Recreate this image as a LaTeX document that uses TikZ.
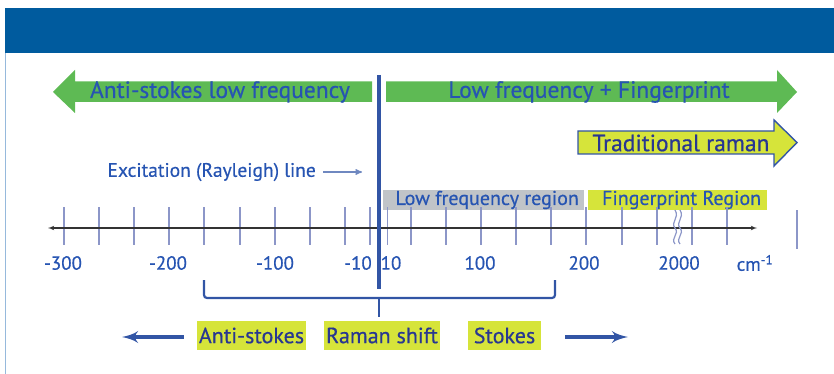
\documentclass[tikz,border=0pt]{standalone}
\usepackage{fontspec}
\setmainfont{PT Sans}[FakeBold=0.5]
\usepackage{tikz}
\usetikzlibrary{positioning,arrows}
\definecolor{hdrblue}{RGB}{0,91,158}
\definecolor{framblue}{RGB}{150,185,220}
\definecolor{arrgreen}{RGB}{94,186,84}
\definecolor{txtblue}{RGB}{38,84,178}
\definecolor{darkblue}{RGB}{40,55,145}
\definecolor{lineblue}{RGB}{50,85,165}
\definecolor{tickblue}{RGB}{140,150,200}
\definecolor{regyellow}{RGB}{214,228,58}
\definecolor{reggray}{RGB}{192,196,200}

\begin{document}
\begin{tikzpicture}[
      x=1pt, y=-1pt,
      >=latex',
      bigtxt/.style={text=txtblue, font=\fontsize{23.5}{26}\selectfont, inner sep=0pt},
      midtxt/.style={text=txtblue, font=\fontsize{19.5}{22}\selectfont, inner sep=0pt},
      numtxt/.style={text=txtblue, font=\fontsize{19}{22}\selectfont, inner sep=0pt},
      region/.style={minimum height=20pt, inner sep=0pt, anchor=west, text=txtblue,
                     font=\fontsize{20}{22}\selectfont},
      shiftbox/.style={fill=regyellow, minimum height=29pt, inner sep=0pt, text=darkblue,
                       font=\fontsize{22}{24}\selectfont},
      tick/.style={draw=tickblue, line width=1.3pt},
    ]
      \useasboundingbox (0,0) rectangle (834,374);
      % header and frame
      \fill[hdrblue] (5,8) rectangle (834,53);
      \draw[framblue, line width=0.6pt] (5.5,53) -- (5.5,374);

      % green arrows
      \fill[arrgreen] (53,92) -- (75,70) -- (75,81.5) -- (372,81.5) -- (372,102)
          -- (75,102) -- (75,113) -- cycle;
      \fill[arrgreen] (386,81.5) -- (777,81.5) -- (777,70) -- (797,92) -- (777,113)
          -- (777,102) -- (386,102) -- cycle;
      \node[bigtxt] (antilow) at (220,92) {Anti-stokes low frequency};
      \node[bigtxt] (lowfing) at (589,92) {Low frequency + Fingerprint};

      % traditional raman
      \filldraw[fill=regyellow, draw=lineblue, line width=1.4pt, line join=miter]
          (578,131) -- (774,131) -- (774,120) -- (797,142.5) -- (774,166) -- (774,154)
          -- (578,154) -- cycle;
      \node[bigtxt, text=darkblue] (tradram) at (681,143) {Traditional raman};

      % regions
      \node[region, fill=reggray, minimum width=201pt] (lowreg) at (383,200) {\hspace{7pt}Low frequency region\hfill};
      \node[region, fill=regyellow, minimum width=179pt, right=3pt of lowreg] (fingreg) {\hspace{9pt}Fingerprint Region\hfill};

      % axis and ticks
      \coordinate (axl) at (48,228);
      \coordinate (axr) at (757,228);
      \foreach \tx in {64,99,134,169,204,240,275,310,345,370,387.5,411,446,481,516,551,586,622,657,692,727}
        \draw[tick] (\tx,207) -- (\tx,245);
      \draw[tick] (797,210) -- (797,249);
      \draw[<->, line width=1.1pt, black!80] (axl) -- (axr);
      \foreach \wx in {675,680}
        \draw[tickblue, line width=1.2pt] (\wx,210) .. controls (\wx+5,218) and (\wx-5,222) .. (\wx,228)
            .. controls (\wx+5,234) and (\wx-5,238) .. (\wx,244);

      % labels
      \foreach \lx/\lt in {63/-300,168/-200,275/-100,358/-10,391/10,480/100,584/200,679/2000}
        \node[numtxt] (lab\lt) at (\lx,263) {\lt};
      \node[numtxt] (unit) at (755,263) {cm\textsuperscript{-1}};

      % excitation line
      \node[midtxt, anchor=east] (excit) at (316,172) {Excitation (Rayleigh) line};
      \coordinate (excend) at (362,172);
      \draw[-stealth', lineblue!70, line width=1.3pt] (excit.east) ++(7,0) -- (excend);
      \coordinate (rayltop) at (379,75);
      \coordinate (raylbot) at (379,289);
      \draw[lineblue, line width=4pt] (rayltop) -- (raylbot);

      % brace
      \draw[lineblue, line width=2.2pt, rounded corners=3pt] (204,280) -- (204,298) -- (555,298) -- (555,280);
      \draw[lineblue, line width=2.2pt] (379,298) -- (379,317);

      % shift labels
      \node[shiftbox, minimum width=109pt] (anti) at (251.5,335.5) {Anti-stokes};
      \node[shiftbox, minimum width=116pt] (rshift) at (382,335.5) {Raman shift};
      \node[shiftbox, minimum width=73pt] (stokes) at (504.5,335.5) {Stokes};
      \coordinate (antitip) at (122,337);
      \coordinate (stoktip) at (628,337);
      \draw[->, lineblue, line width=4.5pt] (anti.west) ++(-13,1.5) -- (antitip);
      \draw[->, lineblue, line width=4.5pt] (stokes.east) ++(24,1.5) -- (stoktip);
\end{tikzpicture}
\end{document}
